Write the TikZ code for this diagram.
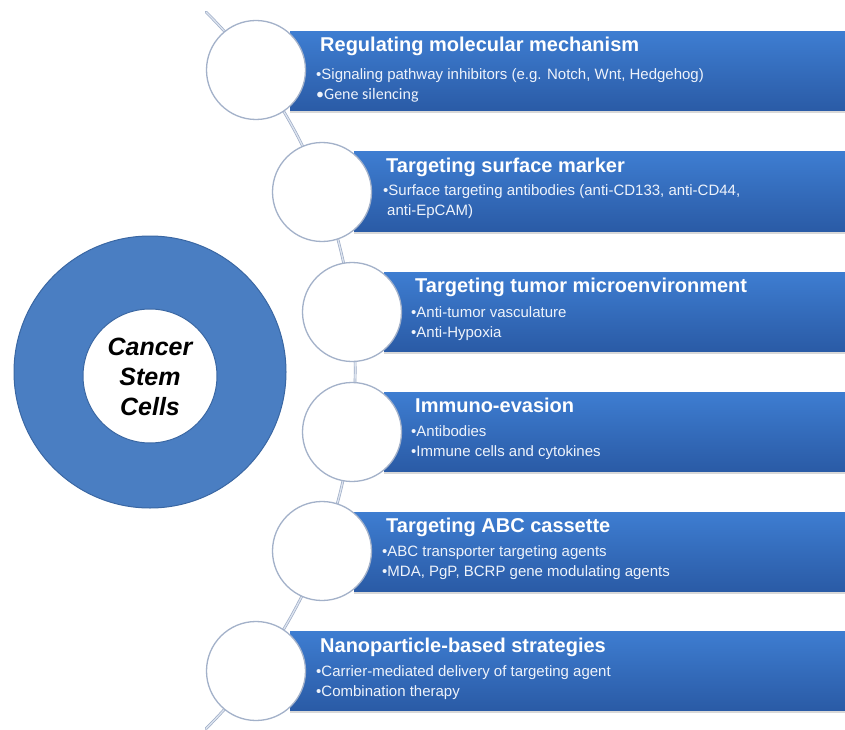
\documentclass[tikz,border=0pt]{standalone}
\usepackage{fontspec}
\setmainfont{Liberation Sans}
\newfontfamily\carl{Carlito}
\usetikzlibrary{shadows}
\definecolor{bantop}{HTML}{3E7DD1}
\definecolor{banbot}{HTML}{2A5BA6}
\definecolor{bigblue}{HTML}{4A7EC2}
\definecolor{bigedge}{HTML}{3A67A3}
\definecolor{ringedge}{HTML}{A3B1C9}
\definecolor{linecol}{HTML}{9DACC6}
\definecolor{linecore}{HTML}{DDE4EF}
\definecolor{bultext}{HTML}{EEF3FB}
\tikzset{
  banner/.style={anchor=north west, inner sep=0pt, outer sep=0pt, minimum height=79pt,
    top color=bantop, bottom color=banbot, draw=none,
    drop shadow={shadow xshift=0pt, shadow yshift=-2.5pt, opacity=0.3}},
  smallcirc/.style={circle, fill=white, draw=ringedge, line width=1.3pt, minimum size=99pt, inner sep=0pt},
  ttl/.style={anchor=base west, inner sep=0pt, text=white, font=\fontsize{20}{24}\selectfont\bfseries},
  bul/.style={anchor=base west, inner sep=0pt, text=bultext, font=\fontsize{15}{18}\selectfont},
  arcline/.style={draw=linecol, line width=0.7pt, double=linecore, double distance=1.3pt, line cap=round}
}
\begin{document}
\begin{tikzpicture}[x=1pt,y=-1pt]
\useasboundingbox (0,0) rectangle (845,730);
\fill[white] (0,0) rectangle (845,730);

% connecting arc (centre (-150,370), radius 505)
\coordinate (arcTop) at (206,12);
\draw[arcline] (arcTop) arc[start angle=-45.2, end angle=45.2, radius=505];

% banners
\node[banner, minimum width=555pt] (b1) at (290,32) {};
\node[banner, minimum width=491pt] (b2) at (354,152) {};
\node[banner, minimum width=461pt] (b3) at (384,272) {};
\node[banner, minimum width=461pt] (b4) at (384,392) {};
\node[banner, minimum width=491pt] (b5) at (354,512) {};
\node[banner, minimum width=555pt] (b6) at (290,631) {};

% small circles
\node[smallcirc] (c1) at (256,70) {};
\node[smallcirc] (c2) at (322,192) {};
\node[smallcirc] (c3) at (352,312) {};
\node[smallcirc] (c4) at (352,432) {};
\node[smallcirc] (c5) at (322,551) {};
\node[smallcirc] (c6) at (256,671) {};

% banner texts
\node[ttl] (t1) at (320,52) {Regulating molecular mechanism};
\node[bul] (t1a) at (316,80) {•Signaling pathway inhibitors (e.g. Notch, Wnt, Hedgehog)};
\node[bul, font=\fontsize{16}{18}\selectfont\carl] (t1b) at (316,100) {•Gene silencing};

\node[ttl] (t2) at (386,172) {Targeting surface marker};
\node[bul] (t2a) at (383,195) {•Surface targeting antibodies (anti-CD133, anti-CD44,};
\node[bul] (t2b) at (387,215) {anti-EpCAM)};

\node[ttl] (t3) at (415,292) {Targeting tumor microenvironment};
\node[bul] (t3a) at (411,317) {•Anti-tumor vasculature};
\node[bul] (t3b) at (411,337) {•Anti-Hypoxia};

\node[ttl] (t4) at (415,412) {Immuno-evasion};
\node[bul] (t4a) at (411,436) {•Antibodies};
\node[bul] (t4b) at (411,456) {•Immune cells and cytokines};

\node[ttl] (t5) at (386,532) {Targeting ABC cassette};
\node[bul] (t5a) at (382,556) {•ABC transporter targeting agents};
\node[bul] (t5b) at (382,576) {•MDA, PgP, BCRP gene modulating agents};

\node[ttl] (t6) at (320,652) {Nanoparticle-based strategies};
\node[bul] (t6a) at (316,676) {•Carrier-mediated delivery of targeting agent};
\node[bul] (t6b) at (316,696) {•Combination therapy};

% central cell
\node[circle, fill=bigblue, draw=bigedge, line width=1pt, minimum size=272pt, inner sep=0pt] (outer) at (150,372) {};
\node[circle, fill=white, draw=bigedge, line width=1pt, minimum size=134pt, inner sep=0pt] (inner) at (150,376) {};
\node[align=center, font=\fontsize{25}{30}\selectfont\bfseries\itshape, text=black] (csc) at (150,377) {Cancer\\Stem\\Cells};
\end{tikzpicture}
\end{document}
